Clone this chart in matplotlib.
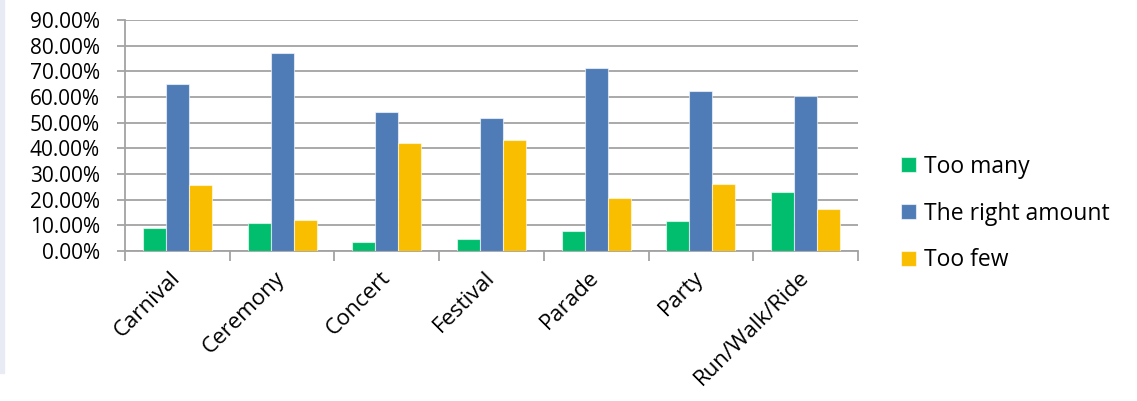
import numpy as np
import matplotlib
matplotlib.use('Agg')
import matplotlib.pyplot as plt
from matplotlib.ticker import PercentFormatter, MultipleLocator
from matplotlib.patches import Rectangle

# Survey answers per event type (share of respondents)
categories = ['Carnival', 'Ceremony', 'Concert', 'Festival', 'Parade', 'Party', 'Run/Walk/Ride']
too_many = [0.091, 0.108, 0.036, 0.047, 0.077, 0.117, 0.230]
right_amount = [0.649, 0.770, 0.542, 0.518, 0.714, 0.623, 0.604]
too_few = [0.256, 0.119, 0.419, 0.434, 0.206, 0.260, 0.164]

series_names = ['Too many', 'The right amount', 'Too few']
colors = ['#00BE6E', '#4F7CB6', '#F9BE00']

plt.rcParams['font.family'] = ['Open Sans', 'DejaVu Sans']

fig = plt.figure(figsize=(11.37, 4.01), dpi=100)
ax = fig.add_axes([125 / 1137, 1 - 251 / 401, (858 - 125) / 1137, (251 - 20) / 401])

x = np.arange(len(categories))
width = 0.22
for i, (vals, name, col) in enumerate(zip([too_many, right_amount, too_few], series_names, colors)):
    ax.bar(x + (i - 1) * width, vals, width, color=col, label=name,
           edgecolor=(1, 1, 1, 0.6), linewidth=0.8, zorder=3)

ax.set_xlim(-0.5, len(categories) - 0.5)
ax.set_ylim(0, 0.9)
ax.yaxis.set_major_locator(MultipleLocator(0.1))
ax.yaxis.set_major_formatter(PercentFormatter(xmax=1, decimals=2))
ax.grid(axis='y', color='#A3A3A3', linewidth=1.3, zorder=0)

# Category separators as tick marks between groups
ax.set_xticks(np.arange(-0.5, len(categories)), minor=False)
ax.set_xticklabels([])
ax.set_xticks(x, minor=True)
ax.set_xticklabels(categories, minor=True, rotation=45, ha='right', va='center',
                   rotation_mode='anchor', fontsize=16)
ax.tick_params(axis='x', which='major', length=7, width=1.3, color='#A3A3A3')
ax.tick_params(axis='x', which='minor', length=0, pad=17)
ax.tick_params(axis='y', length=6, width=1.3, color='#A3A3A3', labelsize=15, pad=12)

for side in ['top', 'right']:
    ax.spines[side].set_visible(False)
ax.spines['left'].set_color('#A3A3A3')
ax.spines['bottom'].set_color('#A3A3A3')
ax.spines['left'].set_linewidth(1.3)
ax.spines['bottom'].set_linewidth(1.3)

fig.legend(loc='upper left', bbox_to_anchor=(880 / 1137, 1 - 134 / 401),
           frameon=False, fontsize=16.5, handlelength=0.65, handleheight=0.65,
           handletextpad=0.35, labelspacing=1.0)

# Thin panel strip at the left edge
fig.patches.append(Rectangle((0, 1 - 373 / 401), 4 / 1137, 373 / 401,
                             transform=fig.transFigure, color='#E9EBF4', zorder=0))

fig.savefig('out.png', dpi=100)
